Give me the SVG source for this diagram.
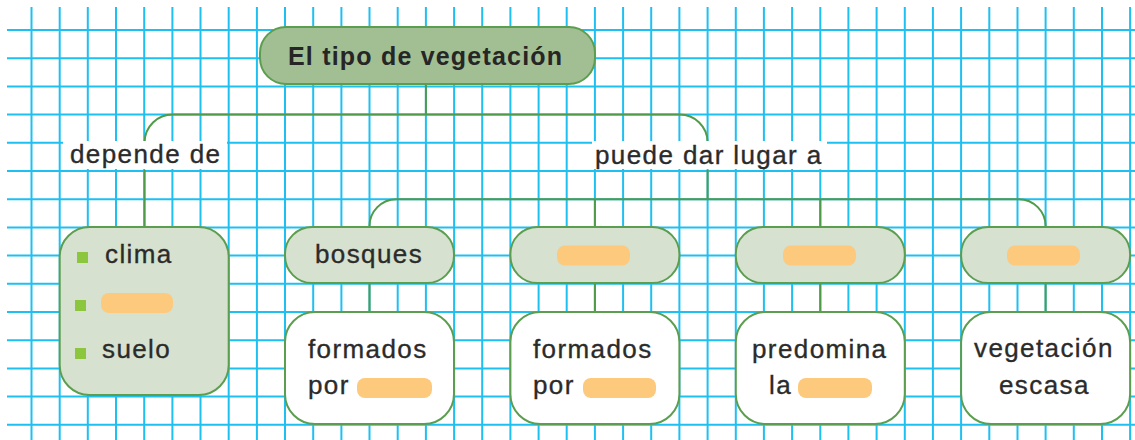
<svg xmlns="http://www.w3.org/2000/svg" width="1135" height="440" viewBox="0 0 1135 440">
<defs>
<style>
.grid{stroke:#1ec0f2;stroke-width:2;fill:none}
.con{stroke:#4f9b49;stroke-width:2;fill:none}
.lab{fill:#ffffff}
.top{fill:#a2bf93;stroke:#5c9e50;stroke-width:2}
.lt{fill:#d6e1cf;stroke:#5c9e50;stroke-width:2}
.wh{fill:#ffffff;stroke:#5c9e50;stroke-width:2}
.pill{fill:#fdc97c}
.bul{fill:#8cc63e}
text{font-family:"Liberation Sans",Arial,sans-serif;font-size:26px;letter-spacing:1.4px;fill:#2b2b2b;stroke:#2b2b2b;stroke-width:0.35px}
.title{font-size:25px;font-weight:bold;letter-spacing:1.2px;fill:#262626;stroke:none}
</style>
</defs>
<rect width="1135" height="440" fill="#ffffff"/>
<g id="grid">
<path class="grid" d="M31.5,7V440M59.7,7V440M87.8,7V440M116,7V440M144.2,7V440M172.4,7V440M200.5,7V440M228.7,7V440M256.9,7V440M285,7V440M313.2,7V440M341.4,7V440M369.5,7V440M397.7,7V440M425.9,7V440M454.1,7V440M482.2,7V440M510.4,7V440M538.6,7V440M566.7,7V440M594.9,7V440M623.1,7V440M651.2,7V440M679.4,7V440M707.6,7V440M735.8,7V440M763.9,7V440M792.1,7V440M820.3,7V440M848.4,7V440M876.6,7V440M904.8,7V440M932.9,7V440M961.1,7V440M989.3,7V440M1017.5,7V440M1045.6,7V440M1073.8,7V440M1102,7V440M1130.1,7V440"/>
<path class="grid" d="M7,30H1135M7,58.2H1135M7,86.4H1135M7,114.6H1135M7,142.8H1135M7,171H1135M7,199.2H1135M7,227.4H1135M7,255.6H1135M7,283.8H1135M7,312H1135M7,340.2H1135M7,368.4H1135M7,396.6H1135M7,424.8H1135"/>
</g>
<g id="connectors">
<path class="con" d="M425.9,84V114.6"/>
<path class="con" d="M144.6,142A28,28 0 0 1 172.6,114.6H679.6A28,28 0 0 1 707.6,142"/>
<path class="con" d="M144.6,170V227"/>
<path class="con" d="M707.6,170V199.2"/>
<path class="con" d="M369.5,227A27,27 0 0 1 396.5,199.2H1018.6A27,27 0 0 1 1045.6,227"/>
<path class="con" d="M594.9,199.2V227M820.3,199.2V227"/>
<path class="con" d="M369.5,283V312M594.9,283V312M820.3,283V312M1045.6,283V312"/>
</g>
<g id="label-depende">
<rect class="lab" x="63" y="141" width="164" height="28"/>
<text x="70" y="163">depende de</text>
</g>
<g id="label-puede">
<rect class="lab" x="592" y="141" width="235" height="28"/>
<text x="595" y="164">puede dar lugar a</text>
</g>
<g id="node-top">
<rect class="top" x="260" y="27" width="335" height="57" rx="26"/>
<text class="title" x="288" y="65">El tipo de vegetación</text>
</g>
<g id="node-factores">
<rect class="lt" x="59.7" y="227" width="169" height="168" rx="30"/>
<rect class="bul" x="77" y="252" width="11" height="11"/>
<text x="105" y="263">clima</text>
<rect class="bul" x="75" y="300" width="11" height="11"/>
<rect class="pill" x="101" y="293" width="72" height="20" rx="8"/>
<rect class="bul" x="75" y="348" width="11" height="11"/>
<text x="102" y="358">suelo</text>
</g>
<g id="node-bosques">
<rect class="lt" x="285" y="227" width="169" height="56" rx="27"/>
<text x="315" y="263">bosques</text>
</g>
<g id="node-tipo2">
<rect class="lt" x="510.4" y="227" width="169" height="56" rx="27"/>
<rect class="pill" x="557" y="245.5" width="73" height="20" rx="8"/>
</g>
<g id="node-tipo3">
<rect class="lt" x="735.8" y="227" width="169" height="56" rx="27"/>
<rect class="pill" x="783" y="245.5" width="73" height="20" rx="8"/>
</g>
<g id="node-tipo4">
<rect class="lt" x="961.1" y="227" width="169" height="56" rx="27"/>
<rect class="pill" x="1007" y="245.5" width="73" height="20" rx="8"/>
</g>
<g id="node-desc1">
<rect class="wh" x="285" y="312" width="169" height="112" rx="30"/>
<text x="308" y="358">formados</text>
<text x="308" y="394">por</text>
<rect class="pill" x="357" y="378" width="75" height="20" rx="8"/>
</g>
<g id="node-desc2">
<rect class="wh" x="510.4" y="312" width="169" height="112" rx="30"/>
<text x="533" y="358">formados</text>
<text x="533" y="394">por</text>
<rect class="pill" x="583" y="378" width="73" height="20" rx="8"/>
</g>
<g id="node-desc3">
<rect class="wh" x="735.8" y="312" width="169" height="112" rx="30"/>
<text x="752" y="358">predomina</text>
<text x="769" y="394">la</text>
<rect class="pill" x="798" y="378" width="74" height="20" rx="8"/>
</g>
<g id="node-desc4">
<rect class="wh" x="961.1" y="312" width="169" height="112" rx="30"/>
<text x="974" y="357">vegetación</text>
<text x="999" y="394">escasa</text>
</g>
</svg>
